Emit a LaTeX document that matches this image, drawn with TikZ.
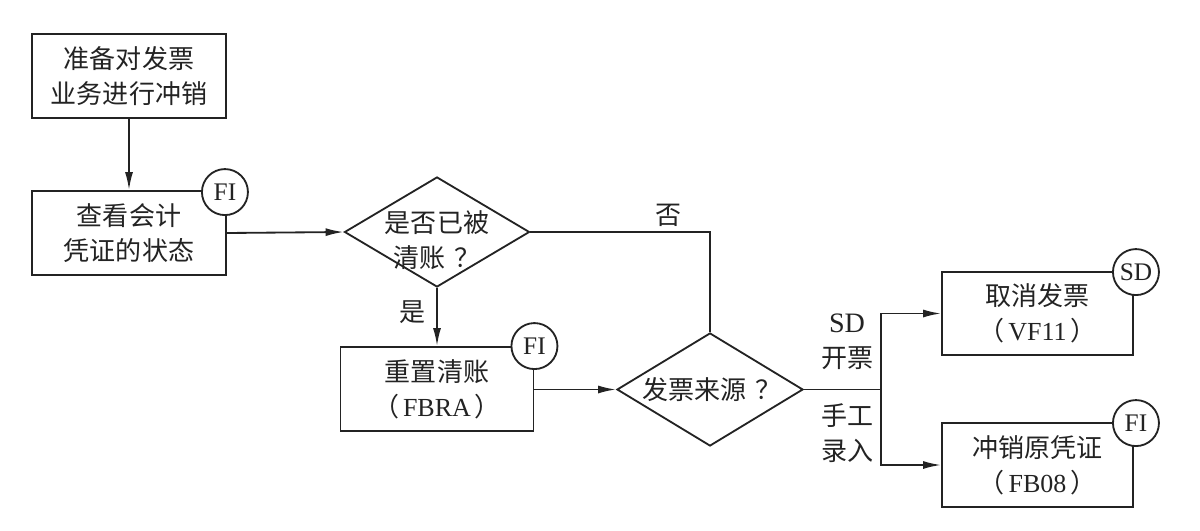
\documentclass[tikz,border=0pt]{standalone}
\usepackage{fontspec}
\setmainfont{Liberation Serif}
\newfontfamily\cjk{Noto Sans CJK SC}
\usetikzlibrary{shapes.geometric,arrows.meta}
\definecolor{ink}{RGB}{35,35,35}
\begin{document}
\begin{tikzpicture}[x=0.025cm,y=-0.025cm,
  every node/.style={text=ink},
  box/.style={draw=ink, line width=1.3pt, minimum width=4.85cm, minimum height=2.1cm,
    inner sep=0pt, align=center, font=\fontsize{18.5}{25}\selectfont\cjk},
  dia/.style={draw=ink, line width=1.3pt, diamond, inner sep=0pt},
  lbl/.style={align=center, inner sep=0pt, font=\fontsize{18.5}{25}\selectfont\cjk},
  tag/.style={draw=ink, line width=1.3pt, circle, fill=white, minimum size=1.15cm,
    inner sep=0pt, font=\fontsize{18}{20}\selectfont\rmfamily},
  conn/.style={draw=ink, line width=1.3pt},
  arr/.style={conn, -{Latex[length=4.5mm,width=2mm]}}
]
\fill[white] (0,0) rectangle (1200,531);
\useasboundingbox (0,0) rectangle (1200,531);

% boxes
\node[box] (b1) at (129,76) {准备对发票\\业务进行冲销};
\node[box] (b2) at (129,233) {查看会计\\凭证的状态};
\node[box, minimum width=4.825cm] (b3) at (437,389) {重置清账\\（\hspace{0.15em}{\rmfamily FBRA}\hspace{0.15em}）};
\node[box, minimum width=4.775cm, minimum height=2.075cm] (b4) at (1037.5,313.5) {取消发票\\（\hspace{0.15em}{\rmfamily VF11}\hspace{0.15em}）};
\node[box, minimum width=4.775cm] (b5) at (1037.5,465) {冲销原凭证\\（\hspace{0.15em}{\rmfamily FB08}\hspace{0.15em}）};

% diamonds
\node[dia, minimum width=4.625cm, minimum height=2.75cm] (d1) at (437,232) {};
\node[lbl] (d1t) at (437,240) {是否已被\\清账\hspace{0.35em}？};
\node[dia, minimum width=4.65cm, minimum height=2.825cm] (d2) at (710,389.5) {};
\node[lbl] (d2t) at (712,390) {发票来源\hspace{0.35em}？};

% tags
\node[tag] (t2) at ([shift={(-2,2)}]b2.north east) {FI};
\node[tag] (t3) at (b3.north east) {FI};
\node[tag] (t4) at ([shift={(2,1)}]b4.north east) {SD};
\node[tag] (t5) at ([shift={(2,1)}]b5.north east) {FI};

% connectors
\draw[arr] (b1.south) -- (b2.north);
\draw[arr] (b2.east) -- (d1.west);
\draw[conn] (d1.east) -- (d2.north |- d1.east) -- (d2.north);
\draw[arr] (d1.south) -- (b3.north);
\draw[arr] (b3.east |- d2.west) -- (d2.west);
\coordinate (j) at (881,389.5);
\draw[conn] (d2.east) -- (j);
\draw[arr] (j) -- (j |- b4.west) -- (b4.west);
\draw[arr] (j) -- (j |- b5.west) -- (b5.west);

% labels
\node[lbl] (no) at (668,215) {否};
\node[lbl] (yes) at (412,312) {是};
\node[lbl] (sd) at (847,342) {{\rmfamily\fontsize{20}{25}\selectfont SD}\\开票};
\node[lbl] (man) at (847,433.5) {手工\\录入};
\end{tikzpicture}
\end{document}
